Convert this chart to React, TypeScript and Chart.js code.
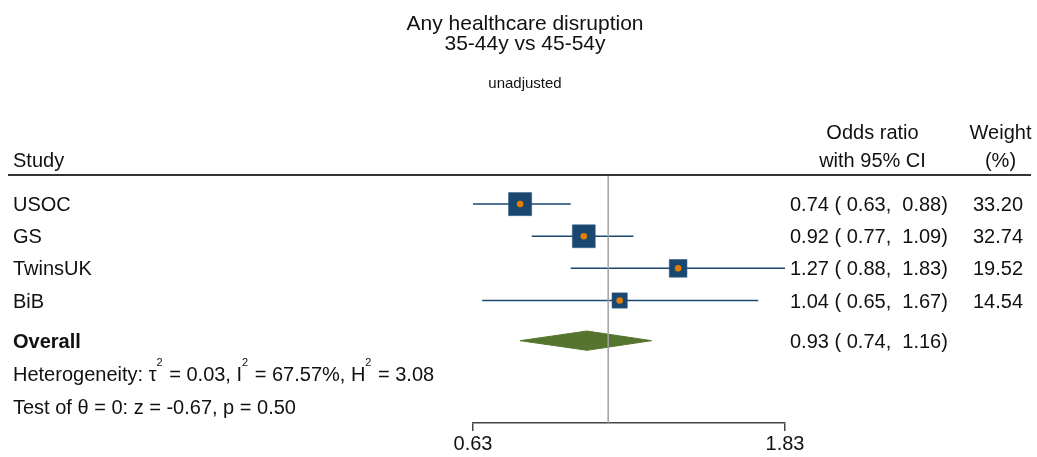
import React, { useEffect, useRef } from "react";
import { Chart, registerables } from "chart.js";

Chart.register(...registerables);

// ---------- data ----------
const STUDIES = ["USOC", "GS", "TwinsUK", "BiB"];
const ODDS_RATIO = [0.74, 0.92, 1.27, 1.04];
const CI_LOW = [0.63, 0.77, 0.88, 0.65];
const CI_HIGH = [0.88, 1.09, 1.83, 1.67];
const WEIGHTS = [33.2, 32.74, 19.52, 14.54];
const OVERALL_LABEL = "Overall";
const OVERALL_EST = 0.93;
const OVERALL_LOW = 0.74;
const OVERALL_HIGH = 1.16;
const HET_SYMBOLS = ["τ", "I", "H"];
const HET_VALUES = ["0.03", "67.57%", "3.08"];
const TEST_Z = -0.67;
const TEST_P = 0.5;
const X_TICKS = [0.63, 1.83];
const NULL_VALUE = 1;
const TITLE_LINES = ["Any healthcare disruption", "35-44y vs 45-54y"];
const SUBTITLE = "unadjusted";
const HEADERS_LEFT = ["Study"];
const HEADERS_CI = ["Odds ratio", "with 95% CI"];
const HEADERS_WEIGHT = ["Weight", "(%)"];

// ---------- layout / style ----------
const FONT = '"Liberation Sans", Arial, Helvetica, sans-serif';
const TEXT = "#111111";
const NAVY = "#1a476f";
const ORANGE = "#e37e00";
const GREEN = "#55752f";
const REF = "#a3a3a3";
const ROWS = [1, 2, 3, 4];
const OVERALL_ROW = 5.25;
const HET_ROW = 6.28;
const TEST_ROW = 7.31;
const Y_TOP = 0.125;
const Y_BOTTOM = 7.8125;

// the odds-ratio axis is drawn on the log scale (values are transformed, labels back-transformed)
const L = (v: number) => Math.log(v);

const f2 = (v: number) => v.toFixed(2);
const pad5 = (v: number) => {
  const s = v.toFixed(2);
  return s.length < 5 ? " ".repeat(5 - s.length) + s : s;
};
const ciText = (e: number, l: number, h: number) => `${f2(e)} (${pad5(l)}, ${pad5(h)})`;

const textPlugin = {
  id: "forestText",
  beforeDatasetsDraw(chart: any) {
    const ctx = chart.ctx;
    ctx.save();
    ctx.strokeStyle = "#333333";
    ctx.lineWidth = 2;
    ctx.beginPath();
    ctx.moveTo(8, 175);
    ctx.lineTo(1031, 175);
    ctx.stroke();
    ctx.restore();
  },
  afterDraw(chart: any) {
    const ctx = chart.ctx;
    const ys = chart.scales.y;
    ctx.save();
    ctx.fillStyle = TEXT;
    ctx.textBaseline = "alphabetic";

    // titles
    ctx.textAlign = "center";
    ctx.font = `21px ${FONT}`;
    ctx.fillText(TITLE_LINES[0], 525, 30);
    ctx.fillText(TITLE_LINES[1], 525, 50);
    ctx.font = `15px ${FONT}`;
    ctx.fillText(SUBTITLE, 525, 88);

    // headers
    ctx.font = `20px ${FONT}`;
    ctx.textAlign = "left";
    ctx.fillText(HEADERS_LEFT[0], 13, 166.5);
    ctx.textAlign = "center";
    ctx.fillText(HEADERS_CI[0], 872.5, 139);
    ctx.fillText(HEADERS_CI[1], 872.5, 166.5);
    ctx.fillText(HEADERS_WEIGHT[0], 1000.5, 139);
    ctx.fillText(HEADERS_WEIGHT[1], 1000.5, 166.5);

    // study rows
    STUDIES.forEach((name, i) => {
      const base = ys.getPixelForValue(ROWS[i]) + 7;
      ctx.textAlign = "left";
      ctx.fillText(name, 13, base);
      ctx.fillText(ciText(ODDS_RATIO[i], CI_LOW[i], CI_HIGH[i]), 790, base);
      ctx.textAlign = "right";
      ctx.fillText(f2(WEIGHTS[i]), 1023, base);
    });

    // overall
    const ob = ys.getPixelForValue(OVERALL_ROW) + 7;
    ctx.textAlign = "left";
    ctx.font = `bold 20px ${FONT}`;
    ctx.fillText(OVERALL_LABEL, 13, ob);
    ctx.font = `20px ${FONT}`;
    ctx.fillText(ciText(OVERALL_EST, OVERALL_LOW, OVERALL_HIGH), 790, ob);

    // heterogeneity with superscripts
    const hb = ys.getPixelForValue(HET_ROW) + 7;
    const parts: [string, boolean][] = [["Heterogeneity: ", false]];
    HET_SYMBOLS.forEach((s, i) => {
      parts.push([s, false]);
      parts.push(["2", true]);
      parts.push([` = ${HET_VALUES[i]}${i < HET_SYMBOLS.length - 1 ? ", " : ""}`, false]);
    });
    let x = 13;
    parts.forEach(([t, sup]) => {
      ctx.font = sup ? `11px ${FONT}` : `20px ${FONT}`;
      ctx.fillText(t, x, sup ? hb - 15 : hb);
      x += ctx.measureText(t).width + (sup ? 1 : 0);
    });

    // test line
    ctx.font = `20px ${FONT}`;
    const tb = ys.getPixelForValue(TEST_ROW) + 7;
    ctx.fillText(`Test of θ = 0: z = ${f2(TEST_Z)}, p = ${f2(TEST_P)}`, 13, tb);

    ctx.restore();
  },
};

export default function App() {
  const ref = useRef<HTMLCanvasElement>(null);

  useEffect(() => {
    if (!ref.current) return;
    Chart.defaults.font.family = FONT;

    const sideOf = (w: number) => 4.0 * Math.sqrt(w);
    const datasets: any[] = [
      {
        type: "line",
        data: [
          { x: L(NULL_VALUE), y: Y_TOP },
          { x: L(NULL_VALUE), y: Y_BOTTOM },
        ],
        borderColor: REF,
        borderWidth: 1.5,
        pointRadius: 0,
        fill: false,
      },
      {
        type: "scatter",
        data: ODDS_RATIO.map((v, i) => ({ x: L(v), y: ROWS[i] })),
        pointStyle: "circle",
        pointRadius: 3.3,
        backgroundColor: ORANGE,
        borderWidth: 0,
      },
      {
        type: "scatter",
        data: ODDS_RATIO.map((v, i) => ({ x: L(v), y: ROWS[i] })),
        pointStyle: "rect",
        pointRadius: WEIGHTS.map((w) => sideOf(w) / Math.SQRT2),
        backgroundColor: NAVY,
        borderColor: "#2b5a84",
        borderWidth: 0.6,
      },
      ...STUDIES.map((_, i) => ({
        type: "line",
        data: [
          { x: L(CI_LOW[i]), y: ROWS[i] },
          { x: L(CI_HIGH[i]), y: ROWS[i] },
        ],
        borderColor: NAVY,
        borderWidth: 1.5,
        pointRadius: 0,
        fill: false,
      })),
      {
        type: "line",
        data: [
          { x: L(OVERALL_LOW), y: OVERALL_ROW },
          { x: L(OVERALL_EST), y: OVERALL_ROW - 0.3 },
          { x: L(OVERALL_HIGH), y: OVERALL_ROW },
          { x: L(OVERALL_EST), y: OVERALL_ROW + 0.3 },
          { x: L(OVERALL_LOW), y: OVERALL_ROW },
        ],
        borderColor: GREEN,
        backgroundColor: GREEN,
        borderWidth: 1,
        pointRadius: 0,
        tension: 0,
        fill: "shape",
      },
    ];

    const chart = new Chart(ref.current, {
      type: "scatter",
      data: { datasets },
      options: {
        animation: false,
        responsive: false,
        devicePixelRatio: 1,
        layout: { padding: { left: 473, right: 252, top: 176, bottom: 0 } },
        plugins: { legend: { display: false }, tooltip: { enabled: false }, title: { display: false } },
        scales: {
          x: {
            type: "linear",
            min: L(X_TICKS[0]),
            max: L(X_TICKS[X_TICKS.length - 1]),
            afterBuildTicks: (axis: any) => {
              axis.ticks = X_TICKS.map((v) => ({ value: L(v) }));
            },
            ticks: {
              callback: (v: any) => Math.exp(Number(v)).toFixed(2),
              font: { size: 20, family: FONT, lineHeight: 1.0 },
              color: TEXT,
              padding: 3,
              autoSkip: false,
              maxRotation: 0,
              minRotation: 0,
            },
            grid: {
              display: true,
              drawOnChartArea: false,
              drawTicks: true,
              tickLength: 8,
              color: "#444444",
              lineWidth: 1.5,
            },
            border: { display: true, color: "#444444", width: 1.5 },
          },
          y: {
            type: "linear",
            reverse: true,
            min: Y_TOP,
            max: Y_BOTTOM,
            display: false,
          },
        },
      } as any,
      plugins: [textPlugin],
    });
    return () => chart.destroy();
  }, []);

  return (
    <div style={{ position: "fixed", left: 0, top: 0, width: 1037, height: 457, background: "#fff" }}>
      <canvas ref={ref} width={1037} height={457} style={{ width: 1037, height: 457, display: "block" }} />
    </div>
  );
}
